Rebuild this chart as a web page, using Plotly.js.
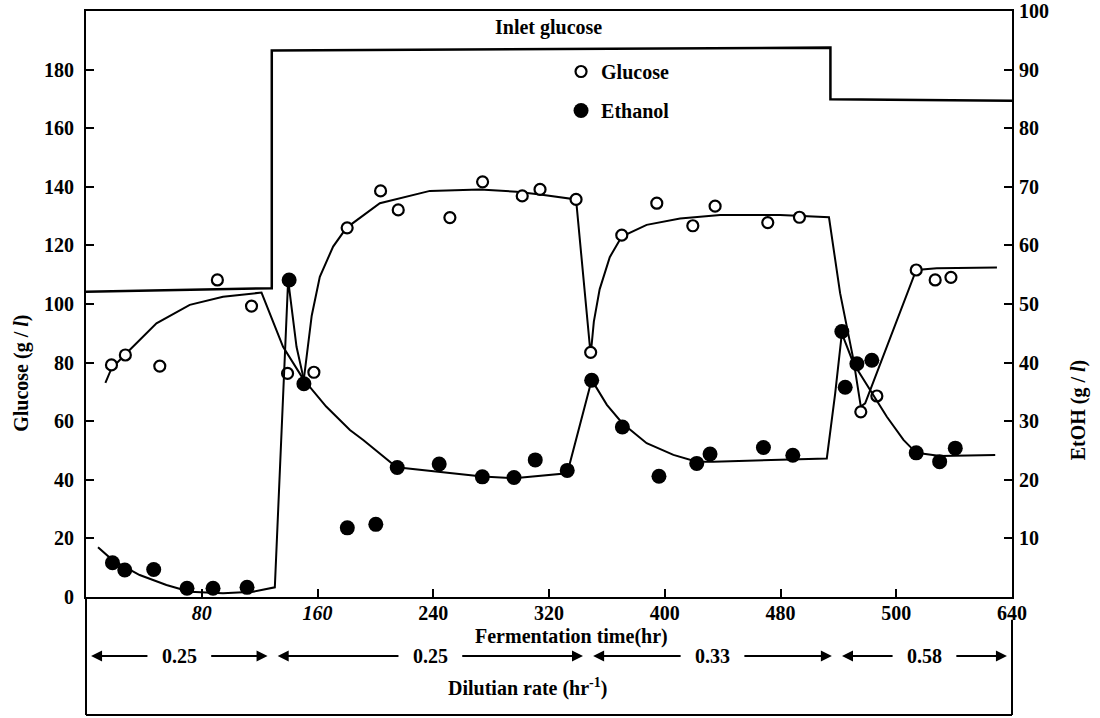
<!DOCTYPE html>
<html>
<head>
<meta charset="utf-8">
<script src="https://cdn.plot.ly/plotly-3.0.1.min.js"></script>
<style>html,body{margin:0;padding:0;background:#fff;}#chart{width:1100px;height:718px;}</style>
</head>
<body>
<div id="chart"></div>
<script>
// ---- Data ----
// Inlet glucose (g/l) step profile
const inletT = [0, 128.4, 128.4, 514.5, 514.5, 640];
const inletV = [104.2, 105.4, 186.5, 187.5, 169.9, 169.4];

// Measured glucose (g/l), left axis
const gluT = [17.6, 27.2, 51, 90.8, 114.4, 139.3, 157.5, 180.5, 203.6, 215.8, 251.5, 274.1, 301.5, 313.8, 338.7, 348.8, 370.3, 394.5, 419.4, 434.8, 471.2, 493.1, 535.5, 546.6, 573.8, 586.9, 597.8];
const gluV = [79.2, 82.6, 78.8, 108.2, 99.3, 76.3, 76.7, 126, 138.6, 132.1, 129.5, 141.7, 136.9, 139.1, 135.7, 83.5, 123.5, 134.4, 126.7, 133.4, 127.8, 129.6, 63.2, 68.6, 111.6, 108.2, 109.1];

// Measured ethanol (g/l), right axis
const ethT = [18.3, 26.8, 46.8, 69.8, 87.8, 111.3, 140.4, 150.6, 180.6, 200.3, 215.1, 244.1, 273.9, 295.8, 310.5, 332.6, 349.5, 370.7, 396, 422.1, 431.3, 468.2, 488.5, 522.4, 524.7, 532.8, 543.1, 573.8, 590, 600.8];
const ethV = [5.85, 4.6, 4.7, 1.5, 1.5, 1.65, 54.1, 36.4, 11.8, 12.4, 22.1, 22.7, 20.5, 20.4, 23.4, 21.6, 37.0, 29.0, 20.6, 22.8, 24.4, 25.5, 24.2, 45.3, 35.8, 39.8, 40.4, 24.6, 23.1, 25.4];

// Hand-drawn glucose curve (g/l)
const gluFitT = [13.4, 17.6, 27.9, 48.7, 71.7, 94.7, 121.3, 136.2, 150.5, 153, 156, 161.6, 170.8, 180, 203.1, 237.7, 272.3, 297.6, 313.8, 338.7, 348.8, 351, 355, 362, 370.3, 387.5, 410.6, 438.3, 479.7, 513.5, 521.2, 530.4, 535.5, 538.5, 573.8, 588, 629.6];
const gluFitV = [73.1, 78, 83.2, 93.4, 99.7, 102.5, 103.9, 85.4, 74.1, 84, 96, 109.3, 119.6, 126, 134.4, 138.6, 139.1, 138.3, 137.4, 135.7, 82.6, 94, 105, 116, 123, 127, 129.2, 130.4, 130.4, 129.6, 103.7, 81, 65, 66.1, 111.6, 112.2, 112.5];

// Hand-drawn ethanol curve (g/l)
const ethFitT = [8.3, 18.3, 37.1, 55.6, 71.7, 94.7, 115.5, 130.5, 139.7, 145.5, 150.6, 166, 182.4, 191.6, 214.7, 244.1, 273.9, 295.8, 332.6, 349.5, 360, 370.7, 387.5, 406, 422.1, 433.6, 512, 517.8, 522.4, 530.4, 542, 553.5, 565, 573.8, 590.4, 628.4];
const ethFitV = [8.5, 6.3, 3.75, 2.05, 0.9, 0.65, 0.9, 1.65, 54.1, 42.7, 37.05, 32.5, 28.5, 26.8, 22.15, 21.4, 20.55, 20.25, 21.1, 37.05, 32.8, 29.65, 26.25, 24.25, 23.1, 23.1, 23.65, 34.75, 45, 39.9, 35.3, 30.75, 26.8, 24.6, 24.05, 24.25];

// Dilution-rate periods
const dilBounds = [0, 129, 347, 519, 640];
const dilRates = ['0.25', '0.25', '0.33', '0.58'];

// Axis ticks
const xTickVals = [80, 160, 240, 320, 400, 480, 560, 640];
const xTickText = ['<i>80</i>', '<i>160</i>', '240', '320', '400', '480', '500', '640'];
const yTickVals = [0, 20, 40, 60, 80, 100, 120, 140, 160, 180];
const y2TickVals = [10, 20, 30, 40, 50, 60, 70, 80, 90, 100];

// ---- Drawing ----
const FONT = '"Liberation Serif", "Times New Roman", Times, serif';
const traces = [
  {x: inletT, y: inletV, mode: 'lines', line: {color: 'black', width: 2.5}, showlegend: false, hoverinfo: 'skip'},
  {x: gluFitT, y: gluFitV, mode: 'lines', line: {color: 'black', width: 2}, showlegend: false, hoverinfo: 'skip'},
  {x: ethFitT, y: ethFitV, yaxis: 'y2', mode: 'lines', line: {color: 'black', width: 2}, showlegend: false, hoverinfo: 'skip'},
  {x: gluT, y: gluV, name: 'Glucose', legendgroup: 'g', mode: 'markers',
   marker: {symbol: 'circle', size: 11, color: 'white', line: {color: 'black', width: 2.2}}},
  {x: ethT, y: ethV, name: 'Ethanol', legendgroup: 'e', yaxis: 'y2', mode: 'markers',
   marker: {symbol: 'circle', size: 15, color: 'black', line: {width: 0}}}
];

const rowY = -0.1007;
const txt = {xref: 'paper', yref: 'paper', xanchor: 'center', yanchor: 'middle', showarrow: false};
const annotations = [
  Object.assign({text: 'Inlet glucose', x: 0.499, y: 0.971}, txt),
  Object.assign({text: 'Glucose (g / <i>l</i>)', x: -0.0695, y: 0.382, textangle: -90}, txt),
  Object.assign({text: 'EtOH (g / <i>l</i>)', x: 1.0716, y: 0.319, textangle: -90}, txt),
  Object.assign({text: 'Fermentation time(hr)', x: 0.524, y: -0.068}, txt),
  Object.assign({text: 'Dilutian rate (hr<sup>-1</sup>)', x: 0.477, y: -0.155}, txt)
];
for (let i = 0; i < dilRates.length; i++) {
  const s = dilBounds[i], e = dilBounds[i + 1], c = (s + e) / 2;
  annotations.push({text: dilRates[i], xref: 'x', yref: 'paper', x: c, y: rowY, xanchor: 'center', yanchor: 'middle', showarrow: false});
  const common = {text: '', xref: 'x', yref: 'paper', y: rowY, axref: 'x', ayref: 'pixel', ay: 0,
    showarrow: true, arrowhead: 2, arrowsize: 1.1, arrowwidth: 2, arrowcolor: 'black', standoff: 0, startstandoff: 0};
  annotations.push(Object.assign({}, common, {x: s + 3.5, ax: c - 21}));
  annotations.push(Object.assign({}, common, {x: e - 3.5, ax: c + 21}));
}

const shapes = [
  {type: 'line', xref: 'paper', yref: 'paper', x0: 0, x1: 0, y0: 0, y1: -0.2014, line: {color: 'black', width: 2}},
  {type: 'line', xref: 'paper', yref: 'paper', x0: 1, x1: 1, y0: -0.039, y1: -0.2014, line: {color: 'black', width: 2}},
  {type: 'line', xref: 'paper', yref: 'paper', x0: 0, x1: 1, y0: -0.2014, y1: -0.2014, line: {color: 'black', width: 2}}
];

const axisCommon = {showgrid: false, zeroline: false, showline: true, linecolor: 'black', linewidth: 2,
  ticks: 'inside', ticklen: 8, tickwidth: 2, tickcolor: 'black', fixedrange: true,
  tickfont: {family: FONT, size: 20, color: 'black', weight: 700}};

const layout = {
  width: 1100, height: 718,
  margin: {l: 86, r: 88, t: 11, b: 121, pad: 0},
  paper_bgcolor: 'white', plot_bgcolor: 'white',
  font: {family: FONT, size: 20, color: 'black', weight: 700},
  showlegend: true,
  legend: {x: 0.513, y: 0.93, xanchor: 'left', yanchor: 'top', bgcolor: 'rgba(0,0,0,0)',
    font: {family: FONT, size: 20, color: 'black', weight: 700}, itemwidth: 30,
    traceorder: 'grouped', tracegroupgap: 10},
  xaxis: Object.assign({}, axisCommon, {range: [0, 640], tickmode: 'array', tickvals: xTickVals, ticktext: xTickText, mirror: true, ticklabelstandoff: -3}),
  yaxis: Object.assign({}, axisCommon, {range: [0, 200], tickmode: 'array', tickvals: yTickVals, ticklabelstandoff: 6}),
  yaxis2: Object.assign({}, axisCommon, {range: [0, 100], tickmode: 'array', tickvals: y2TickVals, overlaying: 'y', side: 'right', ticklabelstandoff: 1}),
  annotations: annotations,
  shapes: shapes
};

Plotly.newPlot('chart', traces, layout, {displayModeBar: false, staticPlot: true});
</script>
</body>
</html>
